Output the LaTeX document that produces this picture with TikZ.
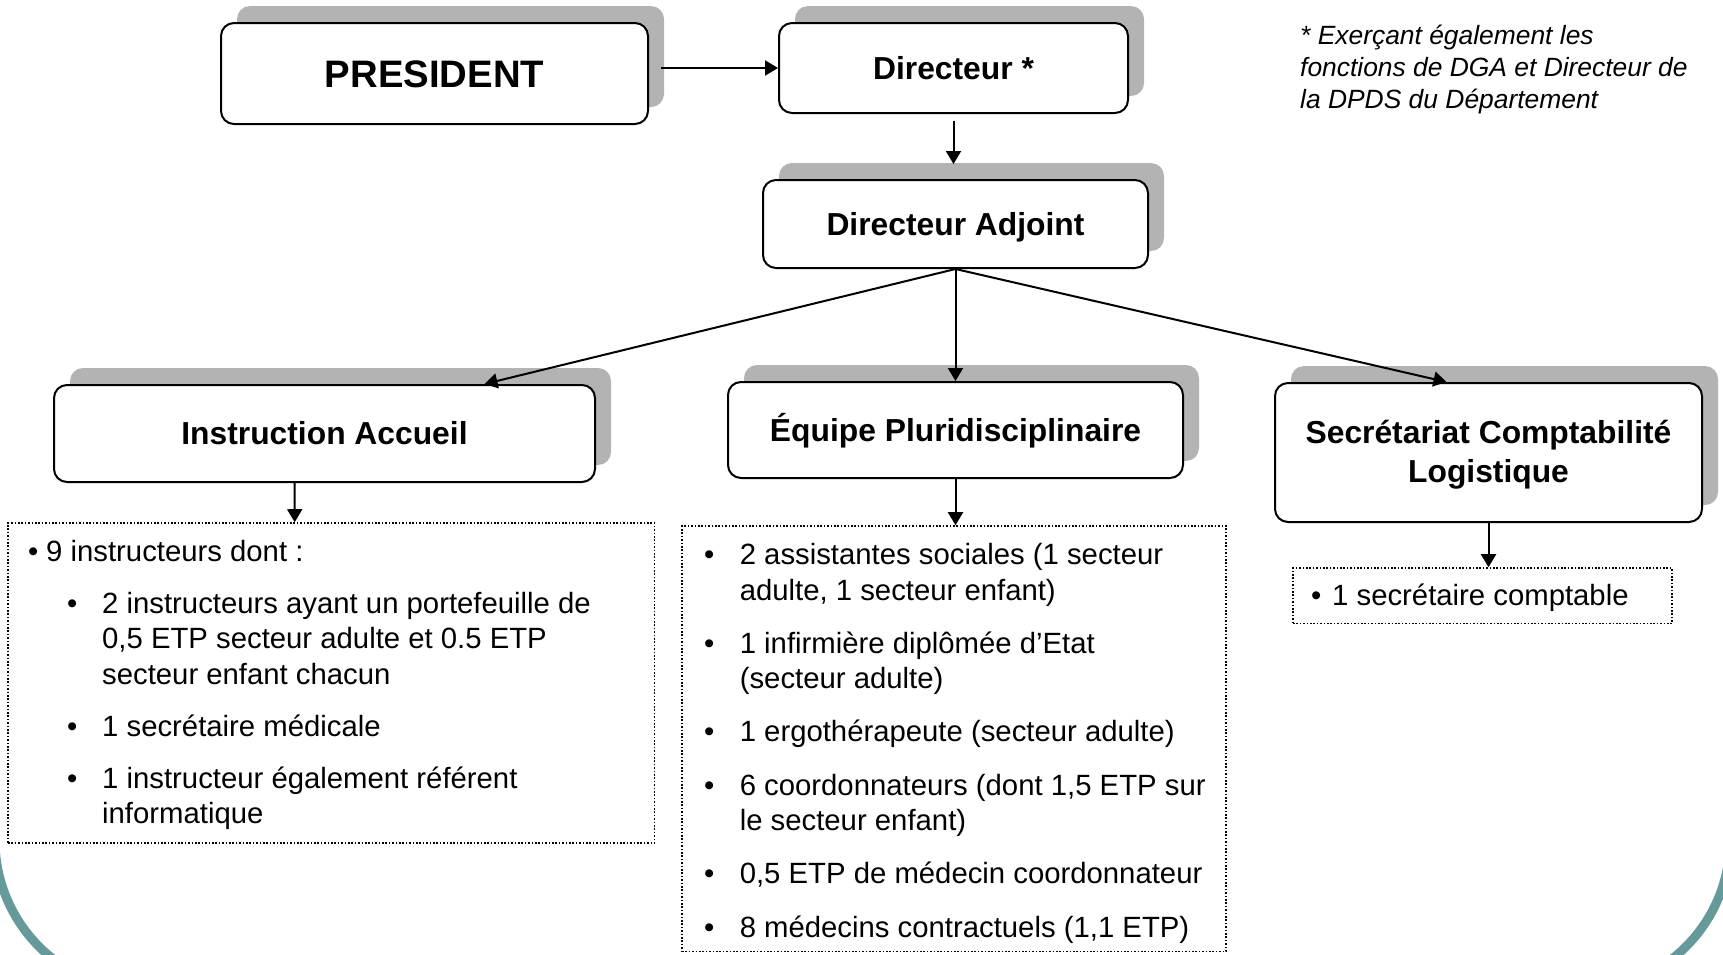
\documentclass[tikz,border=0pt]{standalone}
\usepackage{fontspec}
\setmainfont{Liberation Sans}
\usepackage{tikz}
\usetikzlibrary{arrows.meta, positioning, shadows}
\usepackage{xcolor}
\definecolor{cadre}{RGB}{102,153,153}
\definecolor{ombre}{RGB}{179,179,179}

\newcommand{\puce}[1]{\makebox[#1][l]{\textbullet}}

\begin{document}
\begin{tikzpicture}[x=1pt, y=-1pt,
    unit/.style={draw, line width=2pt, rounded corners=13pt, fill=white, inner sep=0pt,
        font=\bfseries\fontsize{31.8}{38.5}\selectfont, align=center,
        text height=22.8pt, text depth=0pt,
        drop shadow={shadow xshift=16pt, shadow yshift=17pt, fill=ombre, opacity=1}},
    staff/.style={draw, line width=1.6pt, dash pattern=on 1.6pt off 1.8pt, inner sep=0pt},
    items/.style={anchor=base west, inner sep=0pt, align=left, font=\fontsize{29.3}{35.5}\selectfont},
    link/.style={line width=2pt, -{Triangle[length=13pt, width=15pt]}}]

    % Page and frame
    \useasboundingbox (0,0) rectangle (1723,954);
    \begin{scope}
        \clip (0,0) rectangle (1723,954);
        \draw[cadre, line width=9pt, rounded corners=151pt] (-5,-200) rectangle (1730,991);
    \end{scope}

    % Direction
    \node[unit, minimum width=427pt, minimum height=101pt, text height=27.5pt,
        font=\bfseries\fontsize{38.3}{46}\selectfont] (president) at (434.5,73.5) {PRESIDENT};
    \node[unit, minimum width=349pt, minimum height=90pt] (directeur) at (953.5,68) {Directeur *};
    \node[unit, minimum width=385pt, minimum height=88pt] (adjoint) at (955.5,224) {Directeur Adjoint};

    % Note (base = last line)
    \node[anchor=base west, inner sep=0pt, align=left,
        font=\itshape\fontsize{26.4}{32}\selectfont] (note) at (1300,108)
        {* Exerçant également les\\fonctions de DGA et Directeur de\\la DPDS du Département};

    % Services
    \node[unit, minimum width=541pt, minimum height=97pt] (accueil) at (324.5,433.5) {Instruction Accueil};
    \node[unit, minimum width=455pt, minimum height=96pt] (equipe) at (955.5,430) {Équipe Pluridisciplinaire};
    \node[unit, minimum width=427pt, minimum height=139pt, text height=59.6pt] (secretariat) at (1488.5,452.5)
        {Secrétariat Comptabilité\\Logistique};

    % Staff lists
    \node[staff, minimum width=646.5pt, minimum height=320pt] (liste1) at (331.25,683) {};
    \node[items] (texte1) at (28,823.5) {%
        \puce{18pt}9 instructeurs dont :\\[16.5pt]
        \hspace*{39pt}\puce{35pt}2 instructeurs ayant un portefeuille de\\
        \hspace*{74pt}0,5 ETP secteur adulte et 0.5 ETP\\
        \hspace*{74pt}secteur enfant chacun\\[16.5pt]
        \hspace*{39pt}\puce{35pt}1 secrétaire médicale\\[16.5pt]
        \hspace*{39pt}\puce{35pt}1 instructeur également référent\\
        \hspace*{74pt}informatique};

    \node[staff, minimum width=544pt, minimum height=425.5pt] (liste2) at (954,738.75) {};
    \node[items, font=\fontsize{29.3}{35.2}\selectfont] (texte2) at (704,937) {%
        \puce{35.6pt}2 assistantes sociales (1 secteur\\
        \hspace*{35.6pt}adulte, 1 secteur enfant)\\[18.1pt]
        \puce{35.6pt}1 infirmière diplômée d’Etat\\
        \hspace*{35.6pt}(secteur adulte)\\[18.1pt]
        \puce{35.6pt}1 ergothérapeute (secteur adulte)\\[18.1pt]
        \puce{35.6pt}6 coordonnateurs (dont 1,5 ETP sur\\
        \hspace*{35.6pt}le secteur enfant)\\[18.1pt]
        \puce{35.6pt}0,5 ETP de médecin coordonnateur\\[18.1pt]
        \puce{35.6pt}8 médecins contractuels (1,1 ETP)};

    \node[staff, minimum width=379pt, minimum height=55.5pt] (liste3) at (1482.5,595.75) {};
    \node[items] (texte3) at (1311,605) {\puce{21pt}1 secrétaire comptable};

    % Links
    \draw[link] ([xshift=12pt, yshift=5.5pt]president.east) -- (directeur.west);
    \draw[link] ([yshift=-7pt]directeur.south) -- ([xshift=-2pt, yshift=15pt]adjoint.north);
    \draw[link] (adjoint.south) -- ([xshift=160pt]accueil.north);
    \draw[link] (adjoint.south) -- (equipe.north);
    \draw[link] (adjoint.south) -- ([xshift=-42pt]secretariat.north);
    \draw[link] ([xshift=-30pt]accueil.south) -- ([xshift=-36.5pt]liste1.north);
    \draw[link] (equipe.south) -- (equipe.south |- liste2.north);
    \draw[link] (secretariat.south) -- (secretariat.south |- liste3.north);

\end{tikzpicture}
\end{document}
